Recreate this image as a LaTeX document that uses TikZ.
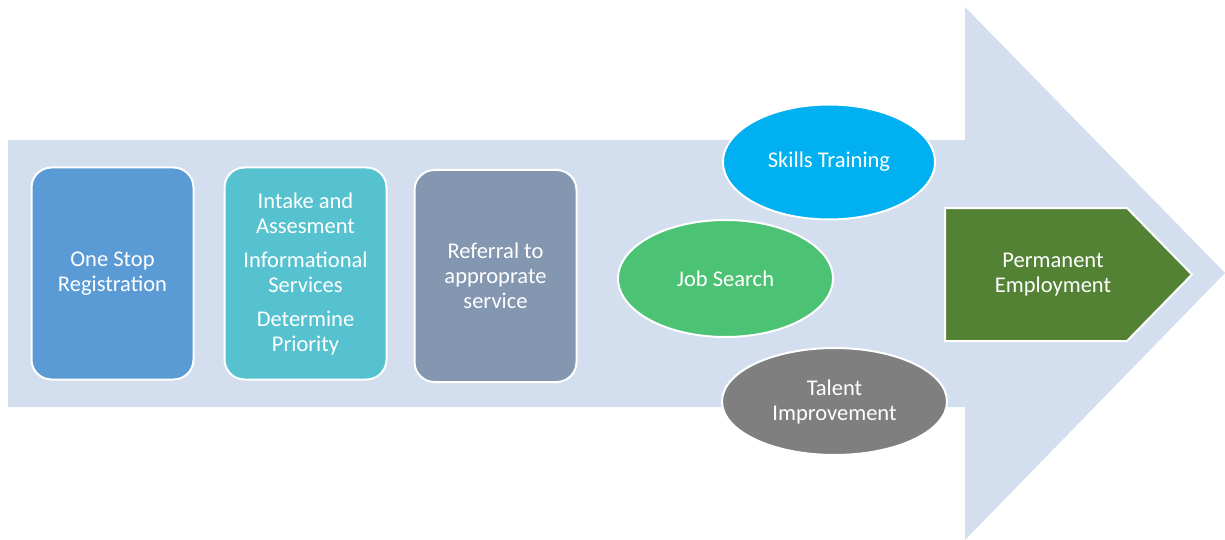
\documentclass[tikz,border=0pt]{standalone}
\usepackage{fontspec}
\setmainfont{Carlito}
\usetikzlibrary{shapes.geometric}
\definecolor{arrowbg}{HTML}{D3DEEF}
\definecolor{boxblue}{HTML}{5B9BD5}
\definecolor{boxteal}{HTML}{56C2CF}
\definecolor{boxslate}{HTML}{8497B0}
\definecolor{skillblue}{HTML}{00B0F0}
\definecolor{jobgreen}{HTML}{4CC274}
\definecolor{talentgray}{HTML}{7F7F7F}
\definecolor{permgreen}{HTML}{548235}
\tikzset{
  txtfont/.style={font=\fontsize{22.5}{25}\selectfont},
  stagebox/.style={draw=white, line width=2pt, rounded corners=20pt, minimum width=162pt, minimum height=212pt, inner sep=0pt, text=white, align=center, txtfont},
  serviceoval/.style={draw=white, line width=2pt, ellipse, inner sep=0pt, text=white, align=center, txtfont},
  lbl/.style={text=white, align=center, txtfont}
}
\begin{document}
\begin{tikzpicture}[x=1pt,y=-1pt]
\useasboundingbox (0,0) rectangle (1225,540);
% big background arrow
\fill[arrowbg] (8,140) -- (965,140) -- (965,7) -- (1225,273) -- (965,540) -- (965,407) -- (8,407) -- cycle;
% stage boxes
\node[stagebox, fill=boxblue] (reg) at (112.5,273.5) {One Stop\\Registration};
\node[stagebox, fill=boxteal] (intake) at (305.5,273.5) {Intake and\\Assesment\\[9pt]Informational\\Services\\[9pt]Determine\\Priority};
\node[stagebox, fill=boxslate] (ref) at (495.5,276) {Referral to\\approprate\\service};
% service ovals
\node[serviceoval, fill=skillblue, minimum width=212pt, minimum height=115pt] (skills) at (829,162) {Skills Training};
\node[serviceoval, fill=jobgreen, minimum width=215pt, minimum height=117pt] (job) at (725.5,278.5) {Job Search};
\node[serviceoval, fill=talentgray, minimum width=225pt, minimum height=107pt] (talent) at (834.5,401.5) {Talent\\Improvement};
% permanent employment pentagon
\draw[draw=white, line width=2pt, fill=permgreen] (945,208) -- (1127,208) -- (1192,274.5) -- (1127,341) -- (945,341) -- cycle;
\node[lbl] (perm) at (1053,274.5) {Permanent\\Employment};
\end{tikzpicture}
\end{document}
